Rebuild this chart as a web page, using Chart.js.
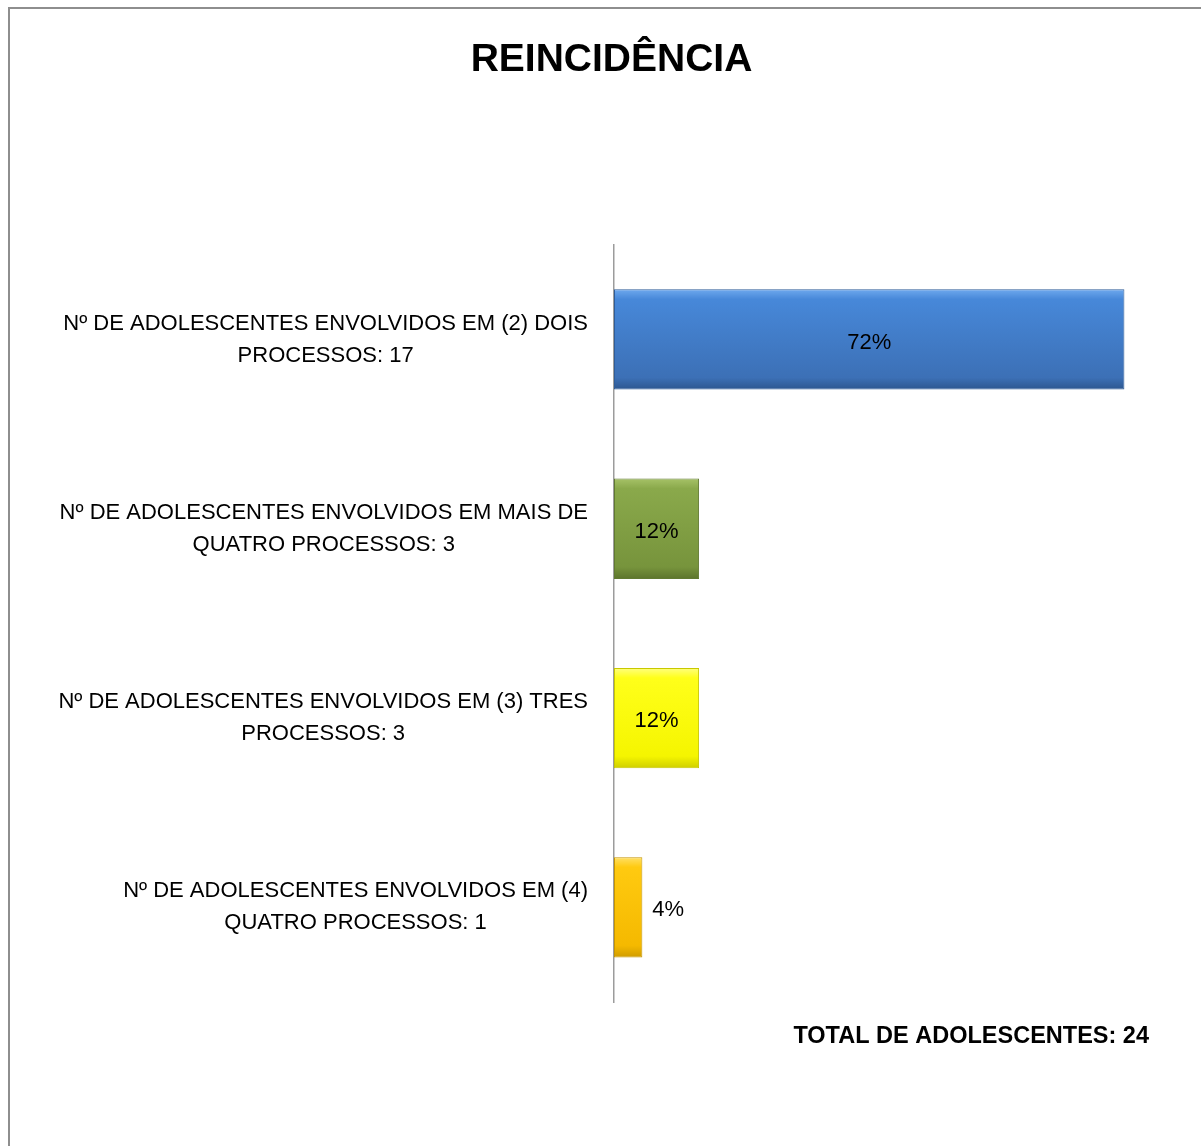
<!DOCTYPE html>
<html>
<head>
<meta charset="utf-8">
<title>Reincidência</title>
<script src="https://cdn.jsdelivr.net/npm/chart.js@4/dist/chart.umd.min.js"></script>
<style>
  html, body { margin: 0; padding: 0; background: #fff; overflow: hidden; }
  #frame {
    position: absolute; left: 8px; top: 7px;
    width: 1220px; height: 1170px;
    border: 2px solid #8e8e8e; box-sizing: border-box;
  }
  #chart { display: block; }
</style>
</head>
<body>
<div id="frame"><canvas id="chart" width="1200" height="1150"></canvas></div>
<script>
  // ======= 데이터 =======
  const categories = [
    ['Nº DE ADOLESCENTES ENVOLVIDOS EM (2) DOIS', 'PROCESSOS: 17'],
    ['Nº DE ADOLESCENTES ENVOLVIDOS EM MAIS DE', 'QUATRO PROCESSOS: 3'],
    ['Nº DE ADOLESCENTES ENVOLVIDOS EM (3) TRES', 'PROCESSOS: 3'],
    ['Nº DE ADOLESCENTES ENVOLVIDOS EM (4)', 'QUATRO PROCESSOS: 1']
  ];
  const percentages = [72, 12, 12, 4];
  const totalText = 'TOTAL DE ADOLESCENTES: 24';

  // gradient stops per bar (top -> bottom)
  const barStops = [
    ['#6ea9ee', '#4788d9', '#3c70b6', '#2c568f'],
    ['#a6c267', '#8aa94b', '#77943c', '#5c742c'],
    ['#ffff80', '#ffff1a', '#f5f500', '#cfcf00'],
    ['#ffe066', '#ffca10', '#f5b900', '#cf9c00']
  ];
  const barEdges = ['#2f5d99', '#617a31', '#c8c800', '#c79600'];

  const FONT = '"Liberation Sans", Arial, sans-serif';
  const BAR_PCT = 0.53;

  function barFill(ctx) {
    const chart = ctx.chart;
    const stops = barStops[ctx.dataIndex];
    const y = chart.scales.y;
    if (!chart.chartArea || !y) return stops[1];
    const c = y.getPixelForValue(ctx.dataIndex);
    const half = (y.height / categories.length) * BAR_PCT / 2;
    const g = chart.ctx.createLinearGradient(0, c - half, 0, c + half);
    g.addColorStop(0, stops[0]);
    g.addColorStop(0.1, stops[1]);
    g.addColorStop(0.88, stops[2]);
    g.addColorStop(1, stops[3]);
    return g;
  }

  // ======= 라벨 / 값 / 합계 그리기 =======
  const labelPlugin = {
    id: 'labelPlugin',
    afterDraw(chart) {
      const ctx = chart.ctx;
      const y = chart.scales.y;
      const right = chart.chartArea.left - 26;
      ctx.save();
      ctx.fillStyle = '#000';
      ctx.textBaseline = 'middle';

      // category labels: block right-aligned, lines centered
      ctx.font = '22px ' + FONT;
      categories.forEach((lines, i) => {
        const c = y.getPixelForValue(i);
        const widest = Math.max(...lines.map(l => ctx.measureText(l).width));
        ctx.textAlign = 'center';
        lines.forEach((l, k) => {
          ctx.fillText(l, right - widest / 2, c + (k - (lines.length - 1) / 2) * 32);
        });
      });

      // value labels
      const meta = chart.getDatasetMeta(0);
      meta.data.forEach((bar, i) => {
        const txt = percentages[i] + '%';
        if (percentages[i] >= 10) {
          ctx.textAlign = 'center';
          ctx.fillText(txt, (bar.base + bar.x) / 2, bar.y + 3);
        } else {
          ctx.textAlign = 'left';
          ctx.fillText(txt, bar.x + 10, bar.y + 3);
        }
      });

      // total
      ctx.font = 'bold 23.5px ' + FONT;
      ctx.textAlign = 'right';
      ctx.fillText(totalText, 1139, 1028);
      ctx.restore();
    }
  };

  new Chart(document.getElementById('chart'), {
    type: 'bar',
    data: {
      labels: categories,
      datasets: [{
        data: percentages,
        backgroundColor: barFill,
        borderColor: barEdges,
        borderWidth: 1,
        borderSkipped: false,
        categoryPercentage: 1,
        barPercentage: BAR_PCT
      }]
    },
    options: {
      indexAxis: 'y',
      responsive: false,
      animation: false,
      devicePixelRatio: 1,
      layout: { padding: { left: 34, right: 31, top: 0, bottom: 157 } },
      plugins: {
        legend: { display: false },
        tooltip: { enabled: false },
        title: {
          display: true,
          text: 'REINCIDÊNCIA',
          color: '#000',
          font: { family: FONT, size: 39, weight: 'bold', lineHeight: 1.2 },
          padding: { top: 28, bottom: 161 }
        }
      },
      scales: {
        x: { display: false, min: 0, max: 79.7 },
        y: {
          grid: { display: false, drawTicks: false },
          border: { display: true, color: '#9c9c9c', width: 1.5 },
          ticks: { display: false },
          afterFit(scale) { scale.width = 570; }
        }
      }
    },
    plugins: [labelPlugin]
  });
</script>
</body>
</html>
